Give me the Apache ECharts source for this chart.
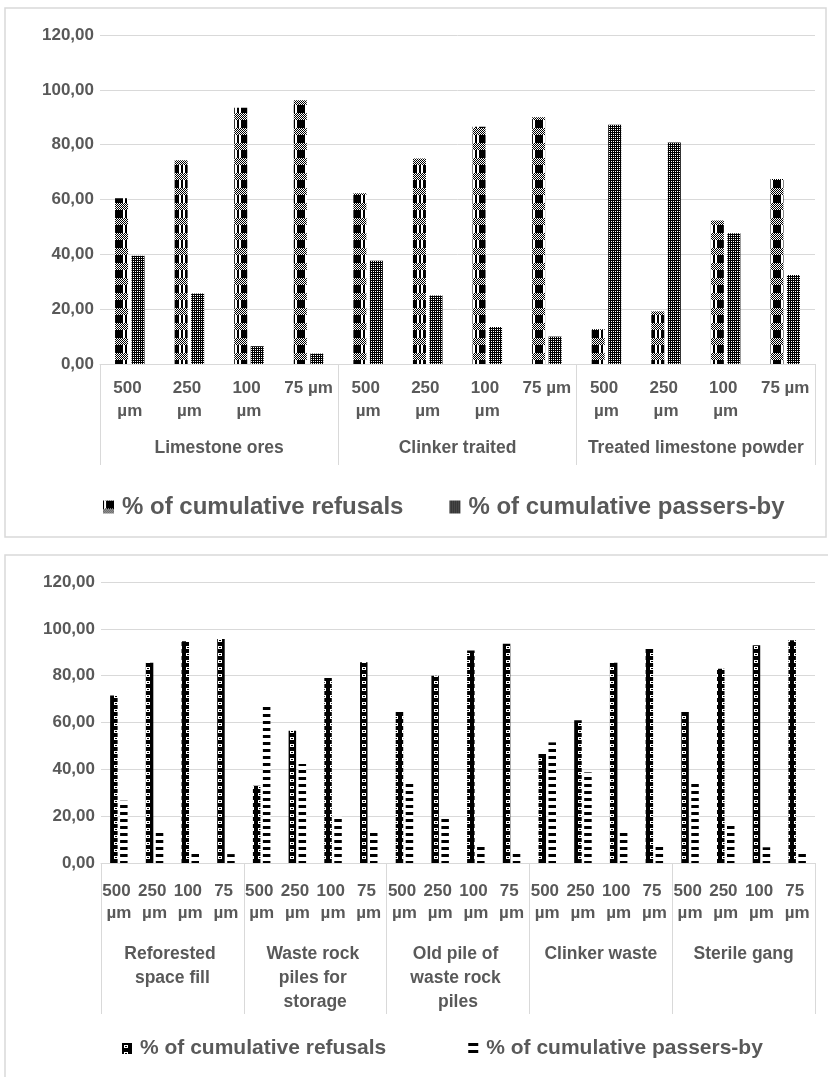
<!DOCTYPE html>
<html>
<head>
<meta charset="utf-8">
<script src="https://cdn.jsdelivr.net/npm/echarts@6/dist/echarts.min.js"></script>
<style>
html,body{margin:0;padding:0;background:#fff;}
#chart{width:828px;height:1077px;}
</style>
</head>
<body>
<div id="chart"></div>
<script>
// ---------- DATA ----------
const sizes = ['500 µm', '250 µm', '100 µm', '75 µm'];
const yTicks = [0, 20, 40, 60, 80, 100, 120];
const seriesNames = ['% of cumulative refusals', '% of cumulative passers-by'];

const topGroups = ['Limestone ores', 'Clinker traited', 'Treated limestone powder'];
const topRefusals = [60.5, 74.3, 93.5, 96.2, 62.3, 75.0, 86.5, 90.0, 12.7, 19.2, 52.3, 67.5];
const topPassers  = [39.5, 25.7, 6.5, 3.8, 37.7, 25.0, 13.5, 10.0, 87.3, 80.8, 47.7, 32.5];

const bottomGroups = ['Reforested space fill', 'Waste rock piles for storage', 'Old pile of waste rock piles', 'Clinker waste', 'Sterile gang'];
const bottomRefusals = [71.5, 85.5, 94.7, 95.7, 33.0, 56.5, 79.0, 85.7, 64.5, 80.0, 90.7, 93.6, 46.6, 61.0, 85.5, 91.4, 64.5, 83.0, 93.0, 95.1];
const bottomPassers  = [26.6, 14.2, 4.5, 3.8, 66.7, 42.3, 19.9, 14.2, 35.2, 19.5, 7.5, 4.7, 51.5, 38.7, 14.0, 7.5, 35.2, 16.7, 6.7, 4.5];

// ---------- PATTERNS ----------
function pattern(w, h, draw) {
  const c = document.createElement('canvas');
  c.width = w; c.height = h;
  const ctx = c.getContext('2d');
  ctx.fillStyle = '#fff'; ctx.fillRect(0, 0, w, h);
  ctx.fillStyle = '#000';
  draw(ctx, w, h);
  return { image: c, repeat: 'repeat' };
}
const patTopRef = pattern(14, 15, (ctx) => {
  ctx.fillRect(3, 0, 8, 8);
  ctx.fillRect(0, 0, 1, 8); ctx.fillRect(13, 0, 1, 8);
  for (let y = 8; y < 15; y++) for (let x = 0; x < 14; x++) if ((x + y) % 2 === 0) ctx.fillRect(x, y, 1, 1);
});
const patTopPas = pattern(4, 4, (ctx) => {
  ctx.fillRect(0, 0, 4, 4);
  ctx.fillStyle = '#fff';
  ctx.fillRect(1, 1, 1, 1); ctx.fillRect(3, 1, 1, 1); ctx.fillRect(1, 3, 1, 1); ctx.fillRect(3, 3, 1, 1);
});
const patBotRef = pattern(8, 7, (ctx) => {
  ctx.fillRect(0, 0, 8, 7);
  ctx.fillStyle = '#fff';
  ctx.fillRect(2, 2, 4, 3);
  ctx.fillStyle = '#000';
  ctx.fillRect(3, 3, 2, 1);
});
const patBotPas = pattern(8, 7, (ctx) => {
  ctx.fillRect(0, 0, 8, 3);
});

// ---------- CHART ----------
const GRAY = '#595959';
const LINE = '#d9d9d9';
const FONT = 'Liberation Sans, Arial, sans-serif';
const fmt = v => v.toFixed(2).replace('.', ',');

function yAxis(gi) {
  return {
    gridIndex: gi, type: 'value', min: yTicks[0], max: yTicks[yTicks.length - 1], interval: yTicks[1] - yTicks[0],
    axisLine: { show: false }, axisTick: { show: false },
    splitLine: { lineStyle: { color: LINE, width: 1 } },
    axisLabel: { formatter: fmt, color: GRAY, fontWeight: 'bold', fontSize: 17, fontFamily: FONT, margin: 6 }
  };
}

const bottomCats = bottomGroups.flatMap(() => sizes);
const topCats = topGroups.flatMap(() => sizes);

const option = {
  animation: false,
  backgroundColor: '#fff',
  graphic: [
    { type: 'rect', shape: { x: 5, y: 8, width: 821, height: 529 }, style: { fill: 'none', stroke: LINE, lineWidth: 1.5 } },
    { type: 'rect', shape: { x: 5, y: 555, width: 840, height: 540 }, style: { fill: 'none', stroke: LINE, lineWidth: 1.5 } }
  ],
  grid: [
    { left: 100, right: 13, top: 35, height: 329 },
    { left: 101, right: 13, top: 582, height: 281 }
  ],
  xAxis: [
    { gridIndex: 0, type: 'category', data: topCats,
      axisLine: { lineStyle: { color: LINE } }, axisTick: { show: false },
      axisLabel: { interval: 0, color: GRAY, fontWeight: 'bold', fontSize: 17, fontFamily: FONT, width: 58, overflow: 'break', lineHeight: 23, margin: 13 } },
    { gridIndex: 0, type: 'category', data: topGroups, position: 'bottom',
      axisLine: { show: false }, axisTick: { show: true, length: 101, lineStyle: { color: LINE } },
      axisLabel: { interval: 0, color: GRAY, fontWeight: 'bold', fontSize: 17.5, fontFamily: FONT, margin: 75 } },
    { gridIndex: 1, type: 'category', data: bottomCats,
      axisLine: { lineStyle: { color: LINE } }, axisTick: { show: false },
      axisLabel: { interval: 0, color: GRAY, fontWeight: 'bold', fontSize: 17, fontFamily: FONT, width: 34, overflow: 'break', lineHeight: 22, margin: 17 } },
    { gridIndex: 1, type: 'category', data: bottomGroups, position: 'bottom',
      axisLine: { show: false }, axisTick: { show: true, length: 151, lineStyle: { color: LINE } },
      axisLabel: { interval: 0, color: GRAY, fontWeight: 'bold', fontSize: 17.5, fontFamily: FONT, width: 128, overflow: 'break', lineHeight: 24, margin: 79, align: 'center' } }
  ],
  yAxis: [yAxis(0), yAxis(1)],
  series: [
    { name: 'tR', type: 'bar', xAxisIndex: 0, yAxisIndex: 0, data: topRefusals, barWidth: 13, barGap: '27%', itemStyle: { color: patTopRef } },
    { name: 'tP', type: 'bar', xAxisIndex: 0, yAxisIndex: 0, data: topPassers, barWidth: 13, barGap: '27%', itemStyle: { color: patTopPas } },
    { name: 'bR', type: 'bar', xAxisIndex: 2, yAxisIndex: 1, data: bottomRefusals, barWidth: 7.5, barGap: '33%', itemStyle: { color: patBotRef } },
    { name: 'bP', type: 'bar', xAxisIndex: 2, yAxisIndex: 1, data: bottomPassers, barWidth: 7.5, barGap: '33%', itemStyle: { color: patBotPas } }
  ]
};

// legends (one per chart), names mapped to series display text
option.legend = [
  { left: 103, top: 495, padding: 0, itemWidth: 11, itemHeight: 13, itemGap: 46, icon: 'rect',
    data: ['tR', 'tP'],
    formatter: n => n === 'tR' ? seriesNames[0] : seriesNames[1],
    textStyle: { color: GRAY, fontWeight: 'bold', fontSize: 24, fontFamily: FONT, padding: [0, 0, 0, 3] } },
  { left: 122, top: 1038, padding: 0, itemWidth: 10, itemHeight: 11, itemGap: 82, icon: 'rect',
    data: ['bR', 'bP'],
    formatter: n => n === 'bR' ? seriesNames[0] : seriesNames[1],
    textStyle: { color: GRAY, fontWeight: 'bold', fontSize: 21, fontFamily: FONT, padding: [0, 0, 0, 3] } }
];

const chart = echarts.init(document.getElementById('chart'), null, { renderer: 'canvas' });
chart.setOption(option);
</script>
</body>
</html>
